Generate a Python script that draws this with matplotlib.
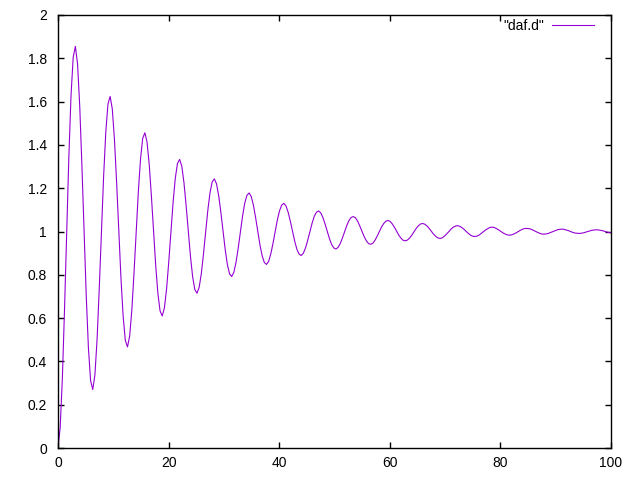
import numpy as np
import matplotlib
matplotlib.use("Agg")
import matplotlib.pyplot as plt

plt.rcParams['font.family'] = ['Liberation Sans', 'DejaVu Sans']

# daf.d 값 (간격 pi/8 로 읽음)
step = np.pi / 8
y = [
    0.000, 0.094, 0.320, 0.639, 1.000, 1.347, 1.629, 1.805,
    1.855, 1.774, 1.581, 1.308, 1.000, 0.704, 0.463, 0.312,
    0.270, 0.338, 0.503, 0.737, 1.000, 1.253, 1.459, 1.588,
    1.624, 1.566, 1.424, 1.225, 1.000, 0.783, 0.608, 0.497,
    0.467, 0.517, 0.637, 0.808, 1.000, 1.185, 1.335, 1.430,
    1.456, 1.413, 1.310, 1.165, 1.000, 0.842, 0.713, 0.633,
    0.610, 0.647, 0.735, 0.859, 1.000, 1.135, 1.245, 1.314,
    1.333, 1.302, 1.226, 1.120, 1.000, 0.885, 0.791, 0.732,
    0.715, 0.742, 0.806, 0.897, 1.000, 1.099, 1.179, 1.229,
    1.243, 1.220, 1.165, 1.088, 1.000, 0.916, 0.847, 0.804,
    0.792, 0.812, 0.859, 0.925, 1.000, 1.072, 1.131, 1.167,
    1.178, 1.161, 1.121, 1.064, 1.000, 0.938, 0.888, 0.857,
    0.848, 0.862, 0.897, 0.945, 1.000, 1.053, 1.095, 1.122,
    1.130, 1.118, 1.088, 1.047, 1.000, 0.955, 0.918, 0.896,
    0.889, 0.900, 0.925, 0.960, 1.000, 1.038, 1.070, 1.089,
    1.095, 1.086, 1.064, 1.034, 1.000, 0.967, 0.940, 0.924,
    0.919, 0.927, 0.945, 0.971, 1.000, 1.028, 1.051, 1.065,
    1.069, 1.063, 1.047, 1.025, 1.000, 0.976, 0.957, 0.944,
    0.941, 0.946, 0.960, 0.979, 1.000, 1.021, 1.037, 1.048,
    1.051, 1.046, 1.034, 1.018, 1.000, 0.982, 0.968, 0.959,
    0.957, 0.961, 0.971, 0.984, 1.000, 1.015, 1.027, 1.035,
    1.037, 1.033, 1.025, 1.013, 1.000, 0.987, 0.977, 0.970,
    0.968, 0.971, 0.979, 0.989, 1.000, 1.011, 1.020, 1.025,
    1.027, 1.024, 1.018, 1.010, 1.000, 0.991, 0.983, 0.978,
    0.977, 0.979, 0.984, 0.992, 1.000, 1.008, 1.014, 1.019,
    1.020, 1.018, 1.013, 1.007, 1.000, 0.993, 0.988, 0.984,
    0.983, 0.985, 0.989, 0.994, 1.000, 1.006, 1.011, 1.014,
    1.014, 1.013, 1.010, 1.005, 1.000, 0.995, 0.991, 0.988,
    0.988, 0.989, 0.992, 0.996, 1.000, 1.004, 1.008, 1.010,
    1.011, 1.010, 1.007, 1.004, 1.000, 0.996, 0.993, 0.992,
    0.991, 0.992, 0.994, 0.997, 1.000, 1.003, 1.006, 1.007,
    1.008, 1.007, 1.005, 1.003, 1.000, 0.997, 0.995, 0.994,
]
t = np.arange(len(y)) * step

xticks = [0, 20, 40, 60, 80, 100]
yticks = [0, 0.2, 0.4, 0.6, 0.8, 1, 1.2, 1.4, 1.6, 1.8, 2]
yticklabels = ['0', '0.2', '0.4', '0.6', '0.8', '1', '1.2', '1.4', '1.6', '1.8', '2']

fig = plt.figure(figsize=(6.4, 4.8), dpi=100)
ax = fig.add_axes([58 / 640, 32 / 480, 553 / 640, 433 / 480])

ax.plot(t, y, color='#9400D3', lw=0.8, label='"daf.d"')

ax.set_xlim(0, 100)
ax.set_ylim(0, 2)
ax.set_xticks(xticks)
ax.set_xticklabels([str(v) for v in xticks])
ax.set_yticks(yticks)
ax.set_yticklabels(yticklabels)
ax.tick_params(direction='in', length=4.5, width=1, top=True, right=True,
               labelsize=10, colors='black')
ax.tick_params(axis='x', pad=6)
ax.tick_params(axis='y', pad=8)
for s in ax.spines.values():
    s.set_linewidth(1)

ax.legend(loc='upper right', frameon=False, markerfirst=False, fontsize=10,
          handlelength=3.0, handletextpad=0.6, borderaxespad=0.0,
          bbox_to_anchor=(0.979, 1.003))

fig.savefig('out.png', dpi=100)
